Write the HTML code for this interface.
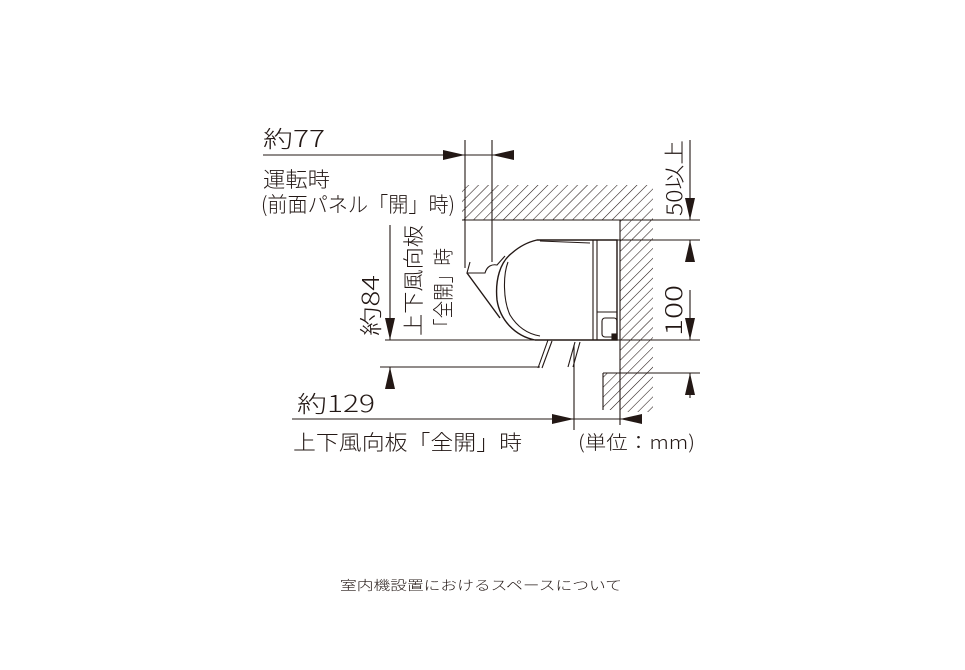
<!DOCTYPE html>
<html><head><meta charset="utf-8"><style>
html,body{margin:0;padding:0;background:#fff;}
svg{display:block;}
text{font-family:"Noto Sans CJK JP","Liberation Sans",sans-serif;font-weight:300;fill:#231815;}
</style></head><body>
<svg width="965" height="670" viewBox="0 0 965 670" xmlns="http://www.w3.org/2000/svg">
<defs>
<pattern id="h" width="7" height="7" patternUnits="userSpaceOnUse" patternTransform="rotate(45)">
<rect width="7" height="7" fill="#fff"/><line x1="0" y1="0" x2="0" y2="7" stroke="#231815" stroke-width="1.1"/>
</pattern>
</defs>
<g stroke="#231815" stroke-width="1.1" fill="none">
<rect x="462" y="185" width="191" height="35" fill="url(#h)" stroke="none"/>
<rect x="620" y="220" width="33" height="192" fill="url(#h)" stroke="none"/>
<rect x="603" y="373" width="50" height="37" fill="url(#h)" stroke="none"/>
<line x1="462" y1="220" x2="700" y2="220"/>
<line x1="620" y1="220" x2="620" y2="425"/>
<line x1="603" y1="373" x2="603" y2="410"/>
<line x1="600" y1="240" x2="700" y2="240"/>
<line x1="385" y1="340" x2="700" y2="340"/>
<line x1="603" y1="373" x2="700" y2="373"/>
<line x1="380" y1="367" x2="540" y2="367"/>
<line x1="263" y1="155" x2="512" y2="155"/>
<line x1="465" y1="140" x2="465" y2="268"/>
<line x1="492" y1="140" x2="492" y2="262"/>
<line x1="690" y1="140" x2="690" y2="220"/>
<line x1="690" y1="240" x2="690" y2="262"/>
<line x1="690" y1="290" x2="690" y2="340"/>
<line x1="690" y1="373" x2="690" y2="398"/>
<line x1="390" y1="225" x2="390" y2="340"/>
<line x1="390" y1="367" x2="390" y2="385"/>
<line x1="292" y1="419" x2="640" y2="419"/>
<line x1="574" y1="345" x2="574" y2="430"/>
<path d="M537 240 L617 240 L617 340 L535 340 C515 336 500 320 497 300 C495 280 500 262 512 253 C520 246 528 242 537 240 Z" stroke-width="1.4"/>
<path d="M508 262 C503 275 503 300 510 315 C518 328 528 334 540 336" />
<line x1="593" y1="240" x2="593" y2="340"/>
<line x1="597" y1="240" x2="597" y2="340"/>
<line x1="597" y1="312" x2="617" y2="312"/>
<rect x="602" y="318" width="15" height="19" rx="3"/>
<line x1="540" y1="241" x2="590" y2="243"/>
<path d="M470 262 L467 273 L485 273 C487 266 492 264 497 265 L505 256" />
<path d="M467 273 L500 318" stroke-width="1.4"/>
<path d="M548 340 L538 368 M552 341 L542 368" />
<path d="M575 342 L568 367 M580 342 L573 367" />
<rect x="612" y="334" width="5" height="5" fill="#231815"/>
</g>
<g fill="#231815">
<polygon points="465,155 443,150 443,160"/>
<polygon points="492,155 514,150 514,160"/>
<polygon points="690,220 685,198 695,198"/>
<polygon points="690,240 685,262 695,262"/>
<polygon points="690,340 685,318 695,318"/>
<polygon points="690,373 685,395 695,395"/>
<polygon points="390,340 385,318 395,318"/>
<polygon points="390,367 385,389 395,389"/>
<polygon points="574,419 552,414 552,424"/>
<polygon points="620,419 642,414 642,424"/>
</g>
<g>
<text x="263" y="147" font-size="23" textLength="62" lengthAdjust="spacingAndGlyphs">約77</text>
<text x="263" y="187" font-size="21" textLength="67" lengthAdjust="spacingAndGlyphs">運転時</text>
<text x="261" y="212" font-size="21" textLength="194" lengthAdjust="spacingAndGlyphs">(前面パネル「開」時)</text>
<text x="297" y="412" font-size="23" textLength="78" lengthAdjust="spacingAndGlyphs">約129</text>
<text x="293" y="450" font-size="21" textLength="229" lengthAdjust="spacingAndGlyphs">上下風向板「全開」時</text>
<text x="578" y="449" font-size="19" textLength="117" lengthAdjust="spacingAndGlyphs">(単位：mm)</text>
<text transform="translate(379,336) rotate(-90)" font-size="23" textLength="61" lengthAdjust="spacingAndGlyphs">約84</text>
<text transform="translate(421,336) rotate(-90)" font-size="21" textLength="111" lengthAdjust="spacingAndGlyphs">上下風向板</text>
<text transform="translate(451,336) rotate(-90)" font-size="21" textLength="88" lengthAdjust="spacingAndGlyphs">「全開」時</text>
<text transform="translate(682,216) rotate(-90)" font-size="21" textLength="76" lengthAdjust="spacingAndGlyphs">50以上</text>
<text transform="translate(682,336) rotate(-90)" font-size="23" textLength="51" lengthAdjust="spacingAndGlyphs">100</text>
<text x="340" y="590" font-size="13" textLength="282" lengthAdjust="spacingAndGlyphs">室内機設置におけるスペースについて</text>
</g>
</svg>
</body></html>
